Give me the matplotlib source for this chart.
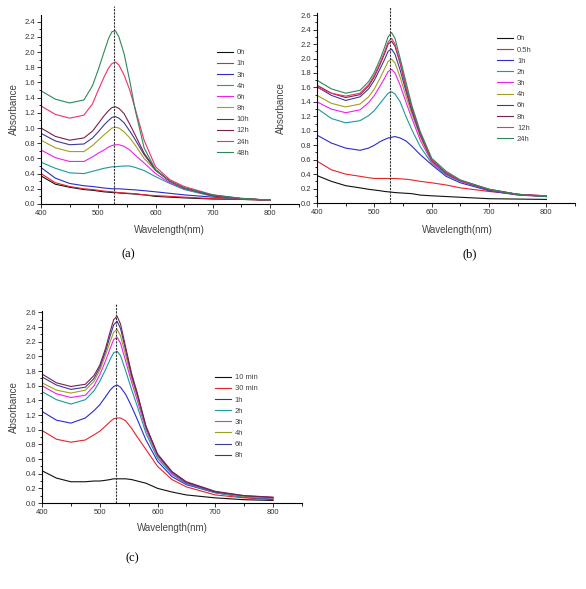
import matplotlib
matplotlib.use("Agg")
import matplotlib.pyplot as plt
from matplotlib.ticker import MultipleLocator, FormatStrFormatter

# wavelength grid (nm) used for all three panels
wl = [400, 425, 450, 475, 490, 500, 510, 518, 524, 530, 536, 545, 555, 565, 580, 600, 625, 650, 700, 750, 800]

# panel (a)
labels_a = ["0h", "1h", "3h", "4h", "6h", "8h", "10h", "12h", "24h", "48h"]
a_0h = [0.37, 0.26, 0.22, 0.19, 0.18, 0.17, 0.16, 0.155, 0.15, 0.15, 0.145, 0.14, 0.135, 0.13, 0.12, 0.10, 0.09, 0.08, 0.065, 0.06, 0.05]
a_1h = [0.40, 0.28, 0.23, 0.20, 0.19, 0.18, 0.17, 0.165, 0.16, 0.155, 0.15, 0.145, 0.14, 0.135, 0.12, 0.11, 0.10, 0.09, 0.07, 0.06, 0.05]
a_3h = [0.48, 0.34, 0.27, 0.24, 0.23, 0.22, 0.21, 0.205, 0.20, 0.20, 0.20, 0.195, 0.19, 0.185, 0.175, 0.16, 0.14, 0.12, 0.09, 0.07, 0.05]
a_4h = [0.55, 0.47, 0.41, 0.40, 0.43, 0.45, 0.47, 0.48, 0.49, 0.49, 0.495, 0.50, 0.50, 0.48, 0.44, 0.36, 0.27, 0.19, 0.10, 0.07, 0.05]
a_6h = [0.71, 0.61, 0.56, 0.56, 0.62, 0.67, 0.71, 0.75, 0.77, 0.78, 0.78, 0.76, 0.71, 0.64, 0.54, 0.40, 0.28, 0.20, 0.11, 0.07, 0.05]
a_8h = [0.84, 0.74, 0.69, 0.69, 0.77, 0.84, 0.91, 0.96, 1.00, 1.01, 1.00, 0.95, 0.87, 0.77, 0.60, 0.44, 0.30, 0.21, 0.11, 0.07, 0.05]
a_10h = [0.93, 0.83, 0.78, 0.79, 0.87, 0.95, 1.04, 1.10, 1.14, 1.15, 1.13, 1.07, 0.96, 0.84, 0.65, 0.45, 0.30, 0.21, 0.11, 0.07, 0.05]
a_12h = [1.00, 0.89, 0.84, 0.87, 0.96, 1.06, 1.16, 1.23, 1.27, 1.28, 1.26, 1.19, 1.05, 0.90, 0.67, 0.45, 0.30, 0.21, 0.11, 0.07, 0.05]
a_24h = [1.29, 1.18, 1.13, 1.17, 1.32, 1.50, 1.67, 1.79, 1.85, 1.87, 1.83, 1.70, 1.50, 1.24, 0.84, 0.49, 0.32, 0.23, 0.12, 0.07, 0.05]
a_48h = [1.49, 1.38, 1.33, 1.37, 1.56, 1.77, 2.00, 2.18, 2.27, 2.28, 2.20, 1.98, 1.62, 1.22, 0.74, 0.45, 0.30, 0.21, 0.12, 0.075, 0.05]
series_a = [a_0h, a_1h, a_3h, a_4h, a_6h, a_8h, a_10h, a_12h, a_24h, a_48h]

# panel (b)
labels_b = ["0h", "0.5h", "1h", "2h", "3h", "4h", "6h", "8h", "12h", "24h"]
b_0h = [0.38, 0.30, 0.24, 0.21, 0.19, 0.18, 0.17, 0.16, 0.155, 0.15, 0.145, 0.14, 0.135, 0.13, 0.11, 0.10, 0.09, 0.08, 0.06, 0.055, 0.05]
b_05h = [0.58, 0.46, 0.40, 0.37, 0.35, 0.34, 0.34, 0.34, 0.34, 0.34, 0.34, 0.335, 0.33, 0.32, 0.30, 0.28, 0.25, 0.21, 0.16, 0.12, 0.09]
b_1h = [0.94, 0.83, 0.76, 0.73, 0.76, 0.80, 0.85, 0.88, 0.90, 0.91, 0.92, 0.90, 0.86, 0.79, 0.67, 0.53, 0.37, 0.28, 0.17, 0.11, 0.09]
b_2h = [1.31, 1.17, 1.11, 1.14, 1.21, 1.28, 1.38, 1.46, 1.52, 1.54, 1.51, 1.40, 1.20, 1.02, 0.78, 0.55, 0.39, 0.30, 0.18, 0.12, 0.09]
b_3h = [1.40, 1.30, 1.25, 1.29, 1.39, 1.49, 1.62, 1.73, 1.82, 1.85, 1.80, 1.63, 1.40, 1.18, 0.87, 0.57, 0.40, 0.30, 0.18, 0.12, 0.09]
b_4h = [1.49, 1.38, 1.33, 1.37, 1.47, 1.58, 1.73, 1.86, 1.96, 1.99, 1.94, 1.74, 1.48, 1.24, 0.92, 0.58, 0.41, 0.31, 0.18, 0.12, 0.09]
b_6h = [1.61, 1.49, 1.42, 1.47, 1.58, 1.70, 1.86, 1.99, 2.10, 2.13, 2.06, 1.84, 1.55, 1.28, 0.94, 0.59, 0.41, 0.31, 0.18, 0.12, 0.09]
b_8h = [1.63, 1.52, 1.46, 1.50, 1.62, 1.75, 1.92, 2.07, 2.20, 2.24, 2.17, 1.93, 1.60, 1.31, 0.96, 0.60, 0.42, 0.31, 0.19, 0.12, 0.10]
b_12h = [1.60, 1.52, 1.48, 1.52, 1.64, 1.77, 1.94, 2.10, 2.23, 2.28, 2.20, 1.95, 1.62, 1.33, 0.97, 0.60, 0.42, 0.31, 0.19, 0.12, 0.10]
b_24h = [1.70, 1.58, 1.52, 1.56, 1.68, 1.81, 1.99, 2.16, 2.30, 2.36, 2.28, 2.00, 1.68, 1.36, 0.99, 0.62, 0.44, 0.32, 0.19, 0.12, 0.09]
series_b = [b_0h, b_05h, b_1h, b_2h, b_3h, b_4h, b_6h, b_8h, b_12h, b_24h]

# panel (c)
labels_c = ["10 min", "30 min", "1h", "2h", "3h", "4h", "6h", "8h"]
c_10m = [0.44, 0.34, 0.29, 0.29, 0.30, 0.30, 0.31, 0.32, 0.33, 0.33, 0.33, 0.33, 0.32, 0.30, 0.27, 0.20, 0.15, 0.11, 0.07, 0.045, 0.035]
c_30m = [0.99, 0.87, 0.83, 0.86, 0.93, 0.98, 1.05, 1.11, 1.15, 1.16, 1.16, 1.12, 1.02, 0.90, 0.73, 0.50, 0.32, 0.22, 0.11, 0.07, 0.045]
c_1h = [1.25, 1.13, 1.09, 1.16, 1.26, 1.34, 1.45, 1.54, 1.59, 1.61, 1.58, 1.48, 1.32, 1.14, 0.86, 0.57, 0.36, 0.25, 0.14, 0.08, 0.055]
c_2h = [1.52, 1.41, 1.35, 1.41, 1.53, 1.66, 1.82, 1.96, 2.05, 2.07, 2.01, 1.80, 1.55, 1.32, 0.95, 0.61, 0.39, 0.26, 0.14, 0.08, 0.06]
c_3h = [1.60, 1.49, 1.44, 1.47, 1.60, 1.75, 1.94, 2.11, 2.23, 2.26, 2.18, 1.93, 1.65, 1.40, 1.00, 0.64, 0.40, 0.27, 0.15, 0.09, 0.065]
c_4h = [1.64, 1.54, 1.50, 1.54, 1.66, 1.81, 2.02, 2.20, 2.33, 2.37, 2.28, 2.01, 1.70, 1.45, 1.02, 0.65, 0.41, 0.28, 0.15, 0.09, 0.07]
c_6h = [1.72, 1.61, 1.55, 1.58, 1.70, 1.85, 2.07, 2.28, 2.43, 2.48, 2.38, 2.08, 1.74, 1.48, 1.04, 0.66, 0.42, 0.28, 0.15, 0.10, 0.075]
c_8h = [1.76, 1.64, 1.59, 1.62, 1.74, 1.88, 2.11, 2.34, 2.50, 2.55, 2.44, 2.12, 1.77, 1.50, 1.05, 0.67, 0.43, 0.29, 0.16, 0.10, 0.08]
series_c = [c_10m, c_30m, c_1h, c_2h, c_3h, c_4h, c_6h, c_8h]

# Origin-like default colour order
colors = ["#111111", "#e8222a", "#2b2bd0", "#1a9a9a", "#f020f0",
          "#a0a020", "#3a3a9a", "#7a2050", "#f0306a", "#2a8a5a"]

peak_nm = 527.5

plt.rcParams["font.family"] = ["Liberation Sans", "DejaVu Sans"]

fig = plt.figure(figsize=(5.86, 5.89), dpi=100)


def make_panel(rect, series, labels, ytop, ymax_major, leg_xy, xlab_xy, ylab_x, line_top):
    ax = fig.add_axes(rect)
    for i, ys in enumerate(series):
        ax.plot(wl, ys, color=colors[i], lw=0.8, label=labels[i])
    ax.axvline(peak_nm, ymin=0, ymax=line_top, color="#333333", lw=0.8,
               ls=(0, (2, 1)), clip_on=False)
    ax.set_xlim(400, 850)
    ax.set_ylim(0, ytop)
    ax.spines["top"].set_visible(False)
    ax.spines["right"].set_visible(False)
    ax.spines["left"].set_linewidth(0.8)
    ax.spines["bottom"].set_linewidth(0.8)
    ax.set_xticks([400, 500, 600, 700, 800])
    ax.set_yticks([i * 0.2 for i in range(int(round(ymax_major / 0.2)) + 1)])
    ax.xaxis.set_minor_locator(MultipleLocator(50))
    ax.yaxis.set_minor_locator(MultipleLocator(0.1))
    ax.yaxis.set_major_formatter(FormatStrFormatter("%.1f"))
    ax.tick_params(which="major", direction="out", length=3, width=0.7,
                   labelsize=5.5, pad=1.5, colors="#333333")
    ax.tick_params(which="minor", direction="out", length=1.8, width=0.6)
    ax.set_xlabel("Wavelength(nm)", fontsize=7, color="#444444")
    ax.set_ylabel("Absorbance", fontsize=7, color="#444444")
    ax.xaxis.set_label_coords(xlab_xy[0], xlab_xy[1])
    ax.yaxis.set_label_coords(ylab_x, 0.5)
    ax.legend(loc="upper left", bbox_to_anchor=leg_xy, frameon=False,
              fontsize=5.5, handlelength=2.1, handletextpad=0.5,
              labelspacing=0.5, borderpad=0, borderaxespad=0,
              labelcolor="#444444")
    return ax


make_panel([0.070, 0.6537, 0.4397, 0.321], series_a, labels_a, 2.49, 2.4,
           (0.683, 0.82), (0.5, -0.112), -0.085, 1.045)
make_panel([0.541, 0.6553, 0.4403, 0.3226], series_b, labels_b, 2.63, 2.6,
           (0.698, 0.884), (0.543, -0.115), -0.12, 1.03)
make_panel([0.0717, 0.146, 0.4435, 0.326], series_c, labels_c, 2.62, 2.6,
           (0.666, 0.672), (0.5, -0.104), -0.088, 1.035)

cap_font = ["Liberation Serif", "DejaVu Serif"]
fig.text(128 / 586, 1 - 254 / 589, "(a)", ha="center", va="center", fontsize=9, family=cap_font)
fig.text(470 / 586, 1 - 254 / 589, "(b)", ha="center", va="center", fontsize=9, family=cap_font)
fig.text(132 / 586, 1 - 558 / 589, "(c)", ha="center", va="center", fontsize=9, family=cap_font)

fig.savefig("out.png", dpi=100)
